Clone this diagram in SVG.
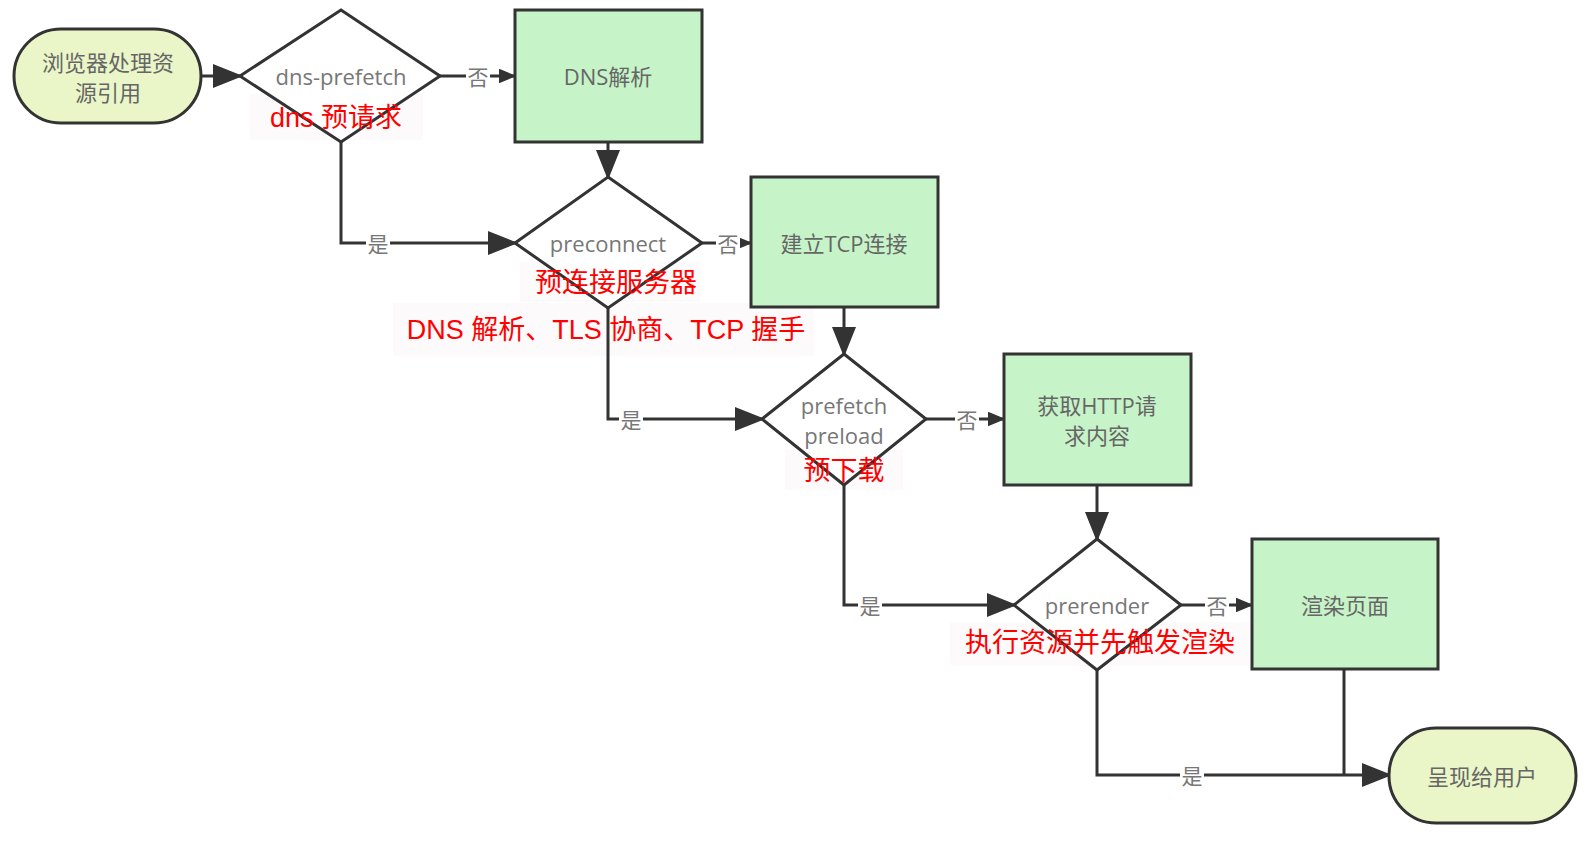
<svg xmlns="http://www.w3.org/2000/svg" width="1594" height="842" viewBox="0 0 1594 842">
<style>
.term{fill:#eaf6c8;stroke:#333;stroke-width:3}
.box{fill:#c6f4c8;stroke:#333;stroke-width:3}
.dia{fill:#fff;stroke:#333;stroke-width:3}
.nt{font-family:"Open Sans","Noto Sans CJK SC",sans-serif;font-size:22px;fill:#666;text-anchor:middle;dominant-baseline:central}
.en{font-family:"Open Sans","Noto Sans CJK SC",sans-serif;font-size:22px;fill:#777;text-anchor:middle;dominant-baseline:central}
.red{font-family:"Liberation Sans","Noto Sans CJK SC",sans-serif;font-size:27px;fill:#f00;text-anchor:middle}
.rbg{fill:#f8f5f3;opacity:0.45}
.ln{fill:none;stroke:#333;stroke-width:3}
.lbl{font-family:"Noto Sans CJK SC",sans-serif;font-size:21px;fill:#777;text-anchor:middle;dominant-baseline:central}
.lb{fill:#fff}
</style>
<defs>
<marker id="big" markerWidth="10" markerHeight="8" refX="9" refY="4" orient="auto" markerUnits="strokeWidth">
<path d="M0,0 L10,4 L0,8 Z" fill="#333"/>
</marker>
<marker id="sm" markerWidth="6" markerHeight="5" refX="5.5" refY="2.5" orient="auto" markerUnits="strokeWidth">
<path d="M0,0 L6,2.5 L0,5 Z" fill="#333"/>
</marker>
</defs>
<rect width="1594" height="842" fill="#fff"/>

<g id="label-backgrounds">
<rect class="rbg" x="250" y="94" width="173" height="46"/>
<rect class="rbg" x="520" y="262" width="180" height="40"/>
<rect class="rbg" x="393" y="303" width="421" height="53"/>
<rect class="rbg" x="785" y="450" width="118" height="40"/>
<rect class="rbg" x="950" y="622" width="300" height="44"/>
</g>

<g id="connectors">
<path class="ln" d="M201,76 L240,76" marker-end="url(#big)"/>
<path class="ln" d="M440,76 L515,76" marker-end="url(#sm)"/>
<path class="ln" d="M608,142 L608,177" marker-end="url(#big)"/>
<path class="ln" d="M341,142 L341,243 L515,243" marker-end="url(#big)"/>
<path class="ln" d="M702,243 L751,243" marker-end="url(#sm)"/>
<path class="ln" d="M844,307 L844,354" marker-end="url(#big)"/>
<path class="ln" d="M608,308 L608,419 L762,419" marker-end="url(#big)"/>
<path class="ln" d="M926,419 L1004,419" marker-end="url(#sm)"/>
<path class="ln" d="M1097,485 L1097,539" marker-end="url(#big)"/>
<path class="ln" d="M844,485 L844,605 L1014,605" marker-end="url(#big)"/>
<path class="ln" d="M1181,605 L1252,605" marker-end="url(#sm)"/>
<path class="ln" d="M1344,669 L1344,775"/>
<path class="ln" d="M1097,670 L1097,775 L1389,775" marker-end="url(#big)"/>
<rect class="lb" x="466" y="64" width="24" height="24"/>
<text class="lbl" x="478" y="76">否</text>
<rect class="lb" x="366" y="231" width="24" height="24"/>
<text class="lbl" x="378" y="243">是</text>
<rect class="lb" x="716" y="231" width="24" height="24"/>
<text class="lbl" x="728" y="243">否</text>
<rect class="lb" x="619" y="407" width="24" height="24"/>
<text class="lbl" x="631" y="419">是</text>
<rect class="lb" x="955" y="407" width="24" height="24"/>
<text class="lbl" x="967" y="419">否</text>
<rect class="lb" x="858" y="593" width="24" height="24"/>
<text class="lbl" x="870" y="605">是</text>
<rect class="lb" x="1205" y="593" width="24" height="24"/>
<text class="lbl" x="1217" y="605">否</text>
<rect class="lb" x="1180" y="763" width="24" height="24"/>
<text class="lbl" x="1192" y="775">是</text>
</g>

<g id="start">
<rect class="term" x="14" y="29" width="187" height="94" rx="47"/>
<text class="nt" x="108" y="62">浏览器处理资</text>
<text class="nt" x="108" y="92">源引用</text>
</g>

<g id="dns-prefetch">
<path class="dia" d="M341,10 L440,76 L341,142 L240,76 Z"/>
<text class="en" x="341" y="76">dns-prefetch</text>
<text class="red" x="336" y="127">dns 预请求</text>
</g>

<g id="dns-resolve">
<rect class="box" x="515" y="10" width="187" height="132"/>
<text class="nt" x="608" y="76">DNS解析</text>
</g>

<g id="preconnect">
<path class="dia" d="M608,177 L702,243 L608,308 L515,243 Z"/>
<text class="en" x="608" y="243">preconnect</text>
<text class="red" x="616" y="292">预连接服务器</text>
<text class="red" x="606" y="339">DNS 解析、TLS 协商、TCP 握手</text>
</g>

<g id="tcp">
<rect class="box" x="751" y="177" width="187" height="130"/>
<text class="nt" x="844" y="243">建立TCP连接</text>
</g>

<g id="prefetch">
<path class="dia" d="M844,354 L926,419 L844,485 L762,419 Z"/>
<text class="en" x="844" y="405">prefetch</text>
<text class="en" x="844" y="435">preload</text>
<text class="red" x="844" y="480">预下载</text>
</g>

<g id="http">
<rect class="box" x="1004" y="354" width="187" height="131"/>
<text class="nt" x="1097" y="405">获取HTTP请</text>
<text class="nt" x="1097" y="435">求内容</text>
</g>

<g id="prerender">
<path class="dia" d="M1097,539 L1181,605 L1097,670 L1014,605 Z"/>
<text class="en" x="1097" y="605">prerender</text>
<text class="red" x="1100" y="652">执行资源并先触发渲染</text>
</g>

<g id="render">
<rect class="box" x="1252" y="539" width="186" height="130"/>
<text class="nt" x="1345" y="605">渲染页面</text>
</g>

<g id="end">
<rect class="term" x="1389" y="728" width="187" height="95" rx="47"/>
<text class="nt" x="1482" y="776">呈现给用户</text>
</g>
</svg>
